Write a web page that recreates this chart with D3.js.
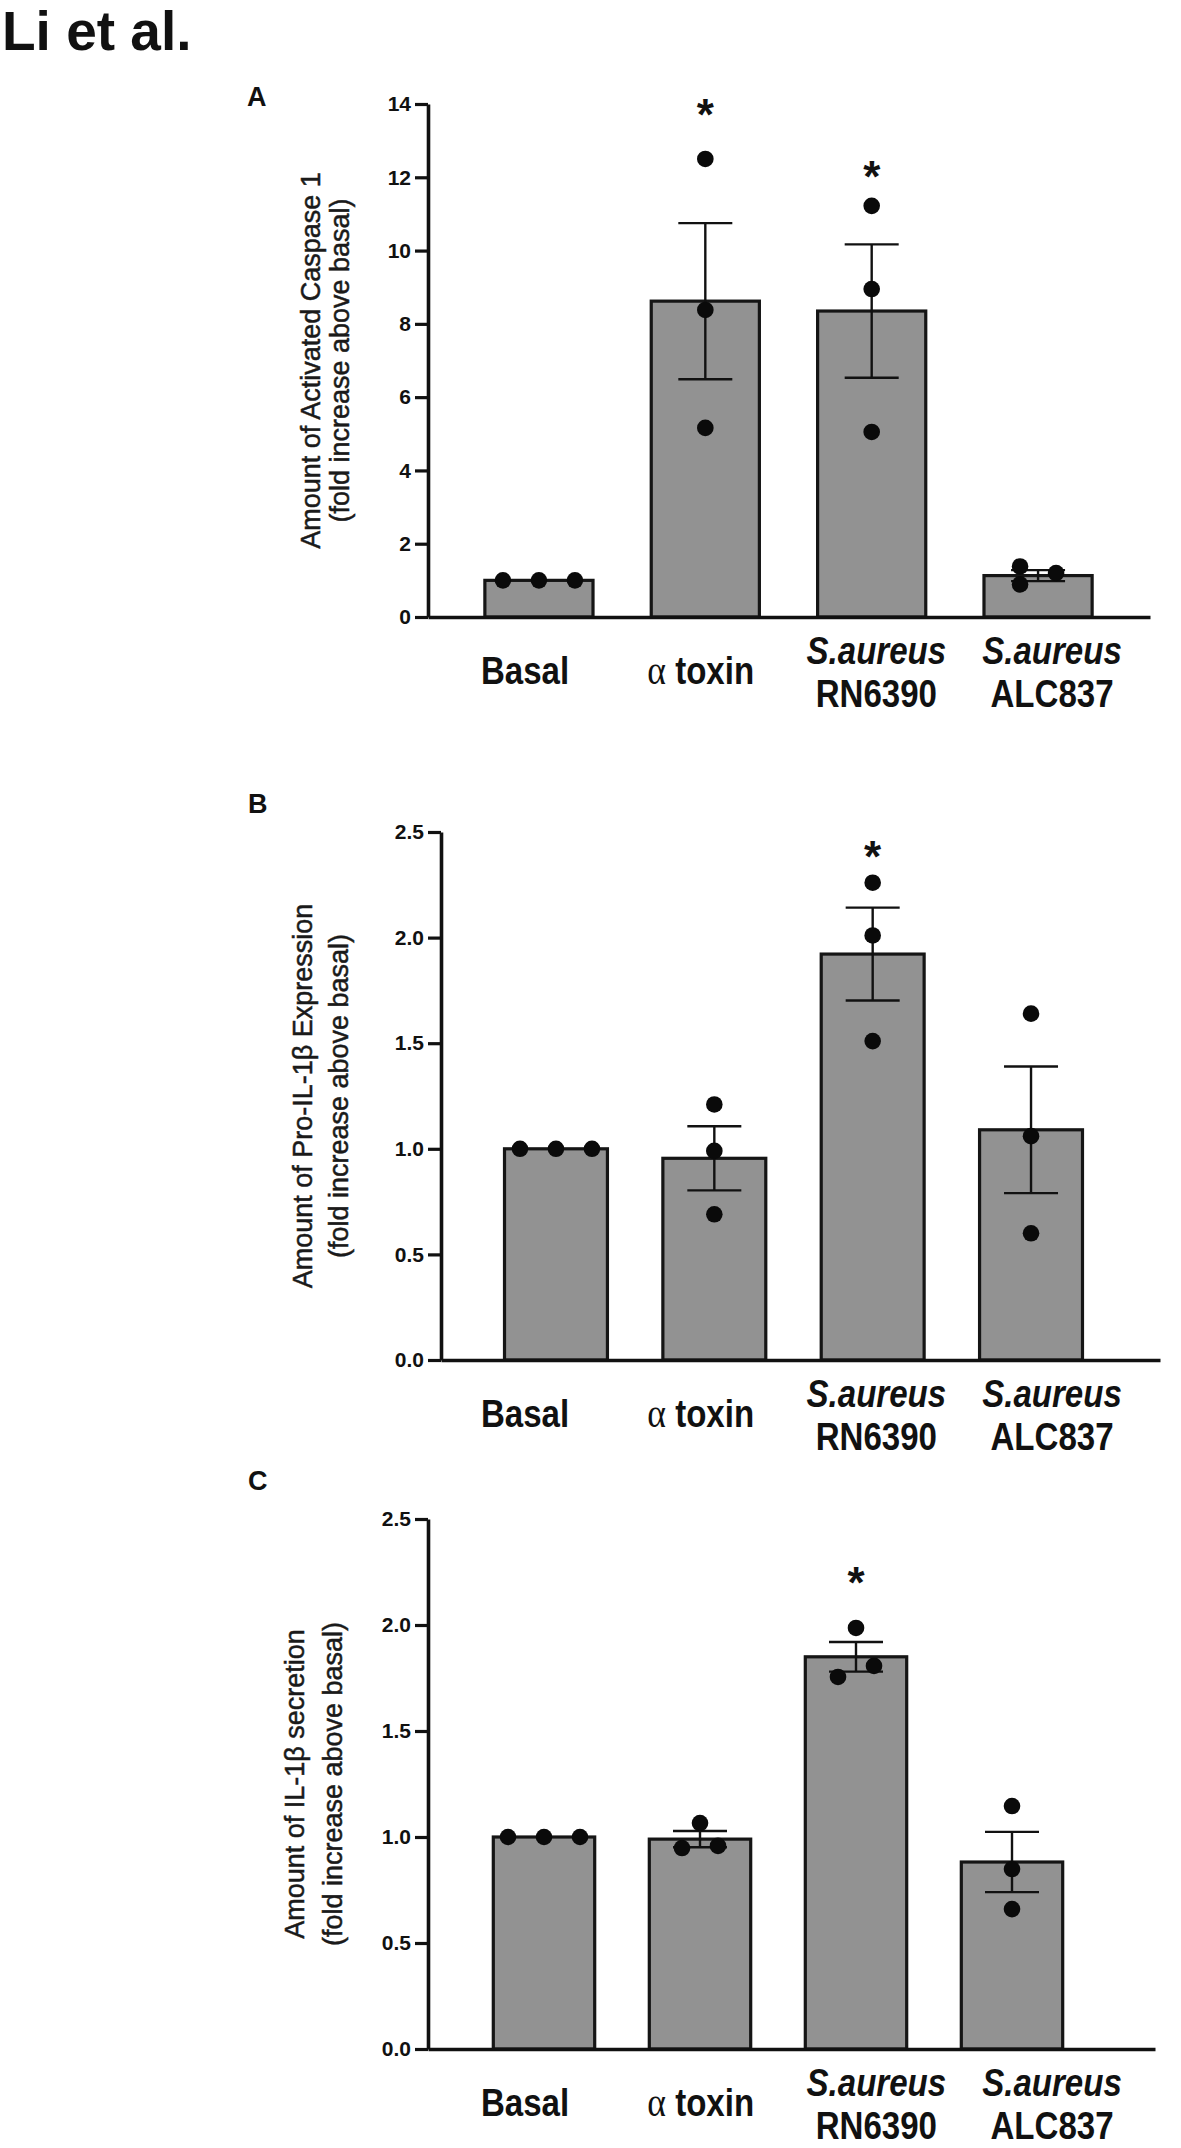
<!DOCTYPE html>
<html>
<head>
<meta charset="utf-8">
<script src="https://cdn.jsdelivr.net/npm/d3@7"></script>
<style>
  html, body { margin: 0; padding: 0; background: #fff; }
  svg { display: block; }
</style>
</head>
<body>
<svg id="chart" width="1181" height="2148"></svg>
<script>
// ---------------- DATA ----------------
const categories = ["Basal", "α toxin", "S.aureus RN6390", "S.aureus ALC837"];
const labelLines = [["Basal"], ["α toxin"], ["S.aureus", "RN6390"], ["S.aureus", "ALC837"]];

// Panel A: Activated Caspase 1
const aMeans  = [1.0, 8.62, 8.35, 1.13];
const aSem    = [0, 2.13, 1.82, 0.15];
const aPoints = [[1, 1, 1], [12.5, 8.38, 5.16], [11.22, 8.95, 5.05], [1.38, 0.89, 1.2]];
const aSlots  = [[-2, 0, 2], [0, 0, 0], [0, 0, 0], [-1, -1, 1]];
const aStars  = [null, 13.97, 12.28, null];
const aTicks  = [0, 2, 4, 6, 8, 10, 12, 14];
const aYLabel = ["Amount of Activated Caspase 1", "(fold increase above basal)"];

// Panel B: Pro-IL-1β expression
const bMeans  = [1.0, 0.955, 1.922, 1.09];
const bSem    = [0, 0.152, 0.22, 0.30];
const bPoints = [[1, 1, 1], [1.21, 0.99, 0.69], [2.26, 2.01, 1.51], [1.64, 1.06, 0.60]];
const bSlots  = [[-2, 0, 2], [0, 0, 0], [0, 0, 0], [0, 0, 0]];
const bStars  = [null, null, 2.43, null];
const bTicks  = [0, 0.5, 1.0, 1.5, 2.0, 2.5];
const bYLabel = ["Amount of Pro-IL-1β Expression", "(fold increase above basal)"];

// Panel C: IL-1β secretion
const cMeans  = [1.0, 0.99, 1.85, 0.882];
const cSem    = [0, 0.038, 0.07, 0.142];
const cPoints = [[1, 1, 1], [1.066, 0.948, 0.958], [1.986, 1.755, 1.807], [1.146, 0.849, 0.66]];
const cSlots  = [[-2, 0, 2], [0, -1, 1], [0, -1, 1], [0, 0, 0]];
const cStars  = [null, null, 2.245, null];
const cTicks  = [0, 0.5, 1.0, 1.5, 2.0, 2.5];
const cYLabel = ["Amount of IL-1β secretion", "(fold increase above basal)"];

// ---------------- LAYOUT ----------------
const svg = d3.select("#chart");
svg.append("rect").attr("width", 1181).attr("height", 2148).attr("fill", "#fff");

const SANS = "'Liberation Sans', Arial, Helvetica, sans-serif";
const SERIF = "'Liberation Serif', 'DejaVu Serif', serif";

svg.append("text")
  .attr("x", 2).attr("y", 50)
  .attr("font-family", SANS).attr("font-weight", "bold").attr("font-size", 55)
  .attr("fill", "#111").text("Li et al.");

const panels = [
  { letter: "A", lx: 247, ly: 106, means: aMeans, sem: aSem, pts: aPoints, slots: aSlots, stars: aStars,
    ticks: aTicks, fmt: d3.format("d"), ylab: aYLabel, max: 14,
    axisX: 428, axisEnd: 1150, y0: 617, yTop: 104, band: [455.75, 1121.25], ylabX: [320, 349] },
  { letter: "B", lx: 248, ly: 813, means: bMeans, sem: bSem, pts: bPoints, slots: bSlots, stars: bStars,
    ticks: bTicks, fmt: d3.format(".1f"), ylab: bYLabel, max: 2.5,
    axisX: 441, axisEnd: 1160, y0: 1360, yTop: 832, band: [476.8, 1110.2], ylabX: [312, 348] },
  { letter: "C", lx: 248, ly: 1490, means: cMeans, sem: cSem, pts: cPoints, slots: cSlots, stars: cStars,
    ticks: cTicks, fmt: d3.format(".1f"), ylab: cYLabel, max: 2.5,
    axisX: 428, axisEnd: 1155, y0: 2049, yTop: 1519, band: [466, 1090], ylabX: [304, 342] }
];

// shared x positions for the category labels (same in all panels)
const labelX = d3.scalePoint().domain(categories).range([525, 1052]);
const slotStep = 18;
const dotR = 8.3;

panels.forEach(p => {
  const g = svg.append("g");
  const x = d3.scaleBand().domain(categories).range(p.band)
    .paddingInner(0.35).paddingOuter(0.175);
  const y = d3.scaleLinear().domain([0, p.max]).range([p.y0, p.yTop]);

  // panel letter
  g.append("text").attr("x", p.lx).attr("y", p.ly)
    .attr("font-family", SANS).attr("font-weight", "bold").attr("font-size", 27)
    .attr("fill", "#111").text(p.letter);

  // bars
  g.selectAll("rect.bar").data(categories).enter().append("rect")
    .attr("class", "bar")
    .attr("x", d => x(d))
    .attr("width", x.bandwidth())
    .attr("y", (d, i) => y(p.means[i]))
    .attr("height", (d, i) => y(0) - y(p.means[i]))
    .attr("fill", "#929292").attr("stroke", "#151515").attr("stroke-width", 3.2);

  // error bars
  const cap = 27;
  categories.forEach((c, i) => {
    if (!p.sem[i]) return;
    const cx = x(c) + x.bandwidth() / 2;
    const hi = y(p.means[i] + p.sem[i]), lo = y(p.means[i] - p.sem[i]);
    const eg = g.append("g").attr("stroke", "#111").attr("stroke-width", 2.4).attr("fill", "none");
    eg.append("line").attr("x1", cx).attr("x2", cx).attr("y1", hi).attr("y2", lo);
    eg.append("line").attr("x1", cx - cap).attr("x2", cx + cap).attr("y1", hi).attr("y2", hi);
    eg.append("line").attr("x1", cx - cap).attr("x2", cx + cap).attr("y1", lo).attr("y2", lo);
  });

  // points
  categories.forEach((c, i) => {
    const cx = x(c) + x.bandwidth() / 2;
    g.selectAll(null).data(p.pts[i]).enter().append("circle")
      .attr("cx", (v, j) => cx + p.slots[i][j] * slotStep)
      .attr("cy", v => y(v))
      .attr("r", dotR).attr("fill", "#0a0a0a");
  });

  // significance stars
  categories.forEach((c, i) => {
    if (p.stars[i] == null) return;
    const cx = x(c) + x.bandwidth() / 2;
    g.append("text").attr("x", cx).attr("y", y(p.stars[i]) + 25)
      .attr("text-anchor", "middle")
      .attr("font-family", SANS).attr("font-weight", "bold").attr("font-size", 44)
      .attr("fill", "#111").text("*");
  });

  // y axis
  const yAxis = d3.axisLeft(y).tickValues(p.ticks).tickFormat(p.fmt)
    .tickSize(13).tickSizeOuter(0).tickPadding(4);
  const ya = g.append("g").attr("transform", `translate(${p.axisX},0)`).call(yAxis);
  ya.select(".domain").attr("stroke", "#111").attr("stroke-width", 3.6);
  ya.selectAll(".tick line").attr("stroke", "#111").attr("stroke-width", 3.2);
  ya.selectAll(".tick text").attr("font-family", SANS).attr("font-weight", "bold")
    .attr("font-size", 21).attr("fill", "#111");

  // x axis line
  const xa = d3.axisBottom(d3.scaleLinear().domain([0, 1]).range([p.axisX, p.axisEnd]))
    .tickValues([]).tickSizeOuter(0);
  g.append("g").attr("transform", `translate(0,${p.y0})`).call(xa)
    .select(".domain").attr("stroke", "#111").attr("stroke-width", 3.6);

  // y label
  const cy = (p.y0 + p.yTop) / 2;
  p.ylab.forEach((t, k) => {
    g.append("text")
      .attr("transform", `translate(${p.ylabX[k]},${cy}) rotate(-90)`)
      .attr("text-anchor", "middle")
      .attr("font-family", SANS).attr("font-size", 27)
      .attr("fill", "#1a1a1a").attr("stroke", "#1a1a1a").attr("stroke-width", 0.5)
      .text(t);
  });

  // category labels
  categories.forEach((c, i) => {
    const lines = labelLines[i];
    const lx = labelX(c);
    const ys = lines.length === 1 ? [p.y0 + 67] : [p.y0 + 47, p.y0 + 90];
    lines.forEach((t, k) => {
      const tg = g.append("g").attr("transform", `translate(${lx},${ys[k]}) scale(0.87,1)`);
      const txt = tg.append("text").attr("text-anchor", "middle")
        .attr("font-family", SANS).attr("font-weight", "bold").attr("font-size", 38)
        .attr("fill", "#111");
      if (t.startsWith("α")) {
        txt.append("tspan").attr("font-family", SERIF).attr("font-weight", "normal")
          .attr("font-size", 41).text("α");
        txt.append("tspan").text(t.slice(1));
      } else {
        if (lines.length === 2 && k === 0) txt.attr("font-style", "italic");
        txt.text(t);
      }
    });
  });
});
</script>
</body>
</html>
